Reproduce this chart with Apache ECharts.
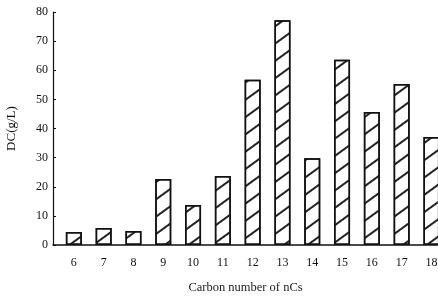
<!DOCTYPE html>
<html>
<head>
<meta charset="utf-8">
<script src="https://cdn.jsdelivr.net/npm/echarts@6/dist/echarts.min.js"></script>
<style>
  html, body { margin: 0; padding: 0; background: #fff; }
  #chart { width: 438px; height: 302px; }
</style>
</head>
<body>
<div id="chart"></div>
<script>
// carbon number of each bar and the DC value
const carbonNumbers = [6, 7, 8, 9, 10, 11, 12, 13, 14, 15, 16, 17, 18];
const dcValues = [4.5, 5.8, 4.8, 22.7, 13.7, 23.7, 56.7, 77.2, 29.8, 63.6, 45.7, 55.3, 37.1];
const yTicks = [0, 10, 20, 30, 40, 50, 60, 70, 80];

const chart = echarts.init(document.getElementById('chart'));
const font = 'Liberation Serif';

const option = {
  animation: false,
  backgroundColor: '#fff',
  grid: { left: 53, right: 0, top: 12, bottom: 57, outerBoundsMode: 'none', containLabel: false },
  xAxis: {
    type: 'value',
    min: 5.3,
    max: 18.22,
    name: 'Carbon number of nCs',
    nameLocation: 'middle',
    nameGap: 36,
    nameTextStyle: { fontFamily: font, fontSize: 12.5, color: '#222' },
    splitLine: { show: false },
    axisLine: { show: true, lineStyle: { color: '#111', width: 1.5 } },
    axisTick: { show: false },
    axisLabel: {
      customValues: carbonNumbers,
      margin: 12,
      fontFamily: font,
      fontSize: 12,
      color: '#111'
    }
  },
  yAxis: {
    type: 'value',
    min: 0,
    max: 80,
    interval: 10,
    name: 'DC(g/L)',
    nameLocation: 'middle',
    nameGap: 35,
    nameTextStyle: { fontFamily: font, fontSize: 13, color: '#111' },
    splitLine: { show: false },
    axisLine: { show: true, lineStyle: { color: '#111', width: 1.2 } },
    axisTick: { show: true, inside: true, length: 3, lineStyle: { color: '#111' } },
    axisLabel: {
      customValues: yTicks,
      margin: 5,
      fontFamily: font,
      fontSize: 12,
      color: '#111'
    }
  },
  series: [{
    type: 'bar',
    barWidth: 16,
    data: carbonNumbers.map((c, i) => [c, dcValues[i]]),
    itemStyle: {
      color: '#fff',
      borderColor: '#111',
      borderWidth: 1.5,
      decal: {
        symbol: 'rect',
        color: '#222',
        backgroundColor: 'rgba(0,0,0,0)',
        dashArrayX: [1, 0],
        dashArrayY: [1.2, 12],
        rotation: -Math.PI / 5
      }
    }
  }]
};

chart.setOption(option);
</script>
</body>
</html>
